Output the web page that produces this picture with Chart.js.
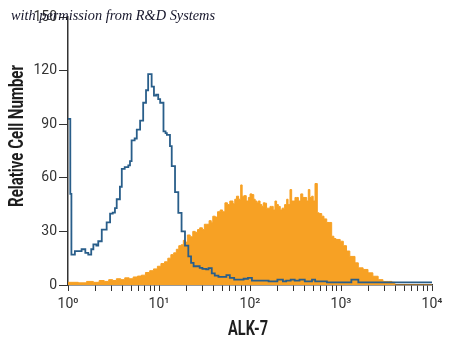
<!DOCTYPE html>
<html>
<head>
<meta charset="utf-8">
<script src="https://cdn.jsdelivr.net/npm/chart.js@4.4.1/dist/chart.umd.min.js"></script>
<style>
  html, body { margin: 0; padding: 0; background: #ffffff; }
  #wrap { position: relative; width: 450px; height: 347px; }
  canvas { display: block; }
</style>
</head>
<body>
<div id="wrap"><canvas id="c" width="450" height="347"></canvas></div>
<script>
// ---- data ----
const blueX = [1.0,1.06,1.09,1.19,1.3,1.41,1.55,1.67,1.8,1.9,2.05,2.15,2.35,2.5,2.66,2.9,3.1,3.28,3.43,3.72,3.9,4.2,4.6,4.8,5.0,5.4,5.7,6.2,6.7,7.2,7.6,8.3,8.8,9.3,9.8,10.3,11.2,11.8,12.2,13.2,13.8,15.0,16.3,17.7,19.3,21,22.5,24,26,28,30,33,35,38,41,45,50,55,60,67,75,85,95,105,130,160,200,230,250,280,310,350,400,480,520,700,1000,1300,1550,3000,10000];
const blueY = [93,51,17,19,19,20,18,17,20,22.7,22,24.5,31,31,35,40,40.5,43,48,55,65,66,67,69.3,81,82,87,92,102,109,118,111,106,106.5,104,102,86,85,84,77.7,66.5,52,40.4,30,22,16,12.4,10.5,10.5,9.6,9,8.7,9.5,6.5,5.3,4.5,4.5,5.5,4,3,3,3.5,4,2.5,2.5,2,3,2,2.5,3,2.5,3,2,3,2,1.5,1.5,3,1.5,1.5,1.5];

const orangeX = [1.0,1.3,1.6,1.9,2.2,2.5,2.8,3.1,3.4,3.8,4.2,4.7,5.2,5.8,6.4,7.1,7.9,8.7,9.6,10.5,11.5,12.5,13.5,14.5,15.5,16.5,17.5,18.5,19.5,20.5,22,23.5,25,26.5,28,30,31.5,33.5,35.5,37.5,39,41.5,44,47,50,53,56.5,60,65,68,71,75,79,82,86,91,96,100,105,110,114,119,123,129,135,140,146,152,159,166,173,180,188,196,205,215,225,232,240,253,262,275,287,299,312,326,340,361,380,402,420,437,455,476,495,518,549,575,614,650,697,740,790,835,880,980,1060,1150,1250,1425,1550,1750,1980,2240,2560,2890,3300,3630,3900,10000];
const orangeY = [1.5,1.2,2,1.5,2.5,2,3,2.5,3.5,3,4,3.5,4.5,5,5.5,7,8,9,10.5,12,13,15,17,18,20,22,22.5,25,24,28,27,30,29.5,31,32,31,34,34,36,35,38.5,38,41,42,41,46,45,47,45.5,48,49.7,48,56,49.7,50,47,49,51,50.6,48,47,46,47,45,44,46,45.8,43,43,44,44,42,47,45,44,42,43,43,45,48,45,53.4,47,47,49,49,47,51,49,49,47,53.4,49,49.7,47,56.8,40.4,40,38.5,37,35,35,27.3,26,25.5,24.5,22,19,16,12.4,9.6,8.7,6.8,4.9,3,2,2,1.5,0,0];

const yTicks = [0, 30, 60, 90, 120, 150];
const xMajorTicks = [1, 10, 100, 1000, 10000];
const xTickLabels = ['10\u2070', '10\u00B9', '10\u00B2', '10\u00B3', '10\u2074'];
const xTitle = 'ALK-7';
const yTitle = 'Relative Cell Number';
const watermark = 'with permission from R&D Systems';

// ---- build ----
const toPts = (xs, ys) => xs.map((x, i) => ({ x: x, y: ys[i] }));

const xTickValues = [];
for (let k = 0; k < xMajorTicks.length - 1; k++) {
  for (let d = 1; d <= 9; d++) xTickValues.push(d * xMajorTicks[k]);
}
xTickValues.push(xMajorTicks[xMajorTicks.length - 1]);

const AXIS = '#333333';
const ORANGE = '#F7A124';
const BLUE = '#295E8A';

const textPlugin = {
  id: 'extraText',
  afterDraw(chart) {
    const ctx = chart.ctx;
    const a = chart.chartArea;
    // y title (condensed bold)
    ctx.save();
    ctx.fillStyle = '#1e1e1e';
    ctx.font = 'bold 20px Roboto';
    let w = ctx.measureText(yTitle).width;
    ctx.translate(17.5, (a.top + a.bottom) / 2 - 15);
    ctx.rotate(-Math.PI / 2);
    ctx.scale(142 / w, 1);
    ctx.textAlign = 'center';
    ctx.textBaseline = 'middle';
    ctx.fillText(yTitle, 0, 0);
    ctx.restore();
    // x title
    ctx.save();
    ctx.fillStyle = '#1e1e1e';
    ctx.font = 'bold 20px Roboto';
    w = ctx.measureText(xTitle).width;
    ctx.translate((a.left + a.right) / 2 - 2, a.bottom + 45);
    ctx.scale(40 / w, 1);
    ctx.textAlign = 'center';
    ctx.textBaseline = 'middle';
    ctx.fillText(xTitle, 0, 0);
    ctx.restore();
    // watermark
    ctx.save();
    ctx.fillStyle = '#15152a';
    ctx.font = 'italic 14px "Liberation Serif"';
    w = ctx.measureText(watermark).width;
    ctx.translate(11, 20);
    ctx.scale(204 / w, 1);
    ctx.textAlign = 'left';
    ctx.textBaseline = 'alphabetic';
    ctx.fillText(watermark, 0, 0);
    ctx.restore();
  }
};

new Chart(document.getElementById('c'), {
  type: 'line',
  data: {
    datasets: [
      {
        label: 'Control',
        data: toPts(blueX, blueY),
        borderColor: BLUE,
        borderWidth: 1.8,
        fill: false,
        stepped: 'before',
        pointRadius: 0,
        tension: 0
      },
      {
        label: 'ALK-7',
        data: toPts(orangeX, orangeY),
        borderColor: ORANGE,
        backgroundColor: ORANGE,
        borderWidth: 1,
        fill: 'origin',
        stepped: 'before',
        pointRadius: 0,
        tension: 0
      }
    ]
  },
  options: {
    responsive: false,
    animation: false,
    devicePixelRatio: 1,
    layout: { padding: { top: 17, right: 18, left: 0, bottom: 0 } },
    plugins: { legend: { display: false }, tooltip: { enabled: false } },
    scales: {
      x: {
        type: 'logarithmic',
        min: 1,
        max: 10000,
        afterBuildTicks(scale) { scale.ticks = xTickValues.map(v => ({ value: v })); },
        afterFit(scale) { scale.height = 62; },
        ticks: {
          autoSkip: false,
          maxRotation: 0,
          padding: 5,
          color: AXIS,
          font: { family: 'Roboto', size: 14 },
          callback(v) {
            const i = xMajorTicks.findIndex(m => Math.abs(m - v) < 1e-6 * m);
            return i >= 0 ? xTickLabels[i] : '';
          }
        },
        grid: { display: true, drawOnChartArea: false, drawTicks: true, tickLength: 6, color: AXIS, lineWidth: 1 },
        border: { display: true, color: AXIS, width: 1.5 }
      },
      y: {
        type: 'linear',
        min: 0,
        max: 150,
        afterBuildTicks(scale) { scale.ticks = yTicks.map(v => ({ value: v })); },
        afterFit(scale) { scale.width = 68; },
        ticks: {
          padding: 2,
          color: AXIS,
          font: { family: 'Roboto', size: 14 }
        },
        grid: { display: true, drawOnChartArea: false, drawTicks: true, tickLength: 9, color: AXIS, lineWidth: 1 },
        border: { display: true, color: AXIS, width: 1.5 }
      }
    }
  },
  plugins: [textPlugin]
});
</script>
</body>
</html>
